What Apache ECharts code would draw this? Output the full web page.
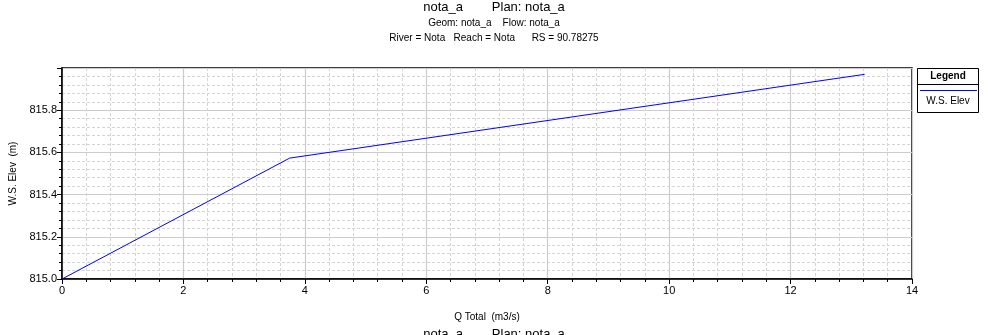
<!DOCTYPE html>
<html>
<head>
<meta charset="utf-8">
<script src="https://cdn.jsdelivr.net/npm/echarts@6/dist/echarts.min.js"></script>
<style>
html,body{margin:0;padding:0;background:#fff;}
#chart{width:988px;height:335px;}
</style>
</head>
<body>
<div id="chart"></div>
<script>
const qTotal = [0, 3.75, 13.22];
const wsElev = [815.0, 815.573, 815.97];
const titleLines = ["nota_a        Plan: nota_a", "Geom: nota_a    Flow: nota_a", "River = Nota   Reach = Nota      RS = 90.78275"];
const seriesName = "W.S. Elev";
const xName = "Q Total  (m3/s)";
const yName = "W.S. Elev  (m)";

const FONT = "Liberation Sans, Arial, sans-serif";
const chart = echarts.init(document.getElementById('chart'), null, {renderer: 'canvas'});
const option = {
  animation: false,
  backgroundColor: '#fff',
  grid: {left: 62, right: 76, top: 68, bottom: 56, show: true, borderColor: '#000', borderWidth: 1.5, backgroundColor: 'transparent'},
  xAxis: {
    type: 'value', min: 0, max: 14, interval: 2,
    name: xName, nameLocation: 'middle', nameGap: 33,
    nameTextStyle: {fontFamily: FONT, fontSize: 10, color: '#000'},
    axisLine: {show: true, lineStyle: {color: '#000', width: 1.5}},
    axisTick: {show: true, inside: false, length: 5, lineStyle: {color: '#000'}},
    minorTick: {show: true, splitNumber: 5, length: 3, lineStyle: {color: '#000'}},
    axisLabel: {fontFamily: FONT, fontSize: 11, color: '#000', margin: 6},
    splitLine: {show: true, lineStyle: {color: '#cccccc', width: 1.2}},
    minorSplitLine: {show: true, lineStyle: {color: '#d4d4d4', type: [3, 2], width: 1}}
  },
  yAxis: {
    type: 'value', min: 815.0, max: 816.0, interval: 0.2,
    name: yName, nameLocation: 'middle', nameGap: 42, nameRotate: 90,
    nameTextStyle: {fontFamily: FONT, fontSize: 10, color: '#000'},
    axisLine: {show: true, lineStyle: {color: '#000', width: 1.5}},
    axisTick: {show: true, inside: false, length: 5, lineStyle: {color: '#000'}},
    minorTick: {show: true, splitNumber: 5, length: 3, lineStyle: {color: '#000'}},
    axisLabel: {fontFamily: FONT, fontSize: 11, color: '#000', margin: 5, showMaxLabel: false,
      formatter: v => v.toFixed(1)},
    splitLine: {show: true, lineStyle: {color: '#cccccc', width: 1.2}},
    minorSplitLine: {show: true, lineStyle: {color: '#d4d4d4', type: [3, 2], width: 1}}
  },
  series: [{
    name: seriesName, type: 'line', showSymbol: false,
    data: qTotal.map((q, i) => [q, wsElev[i]]),
    lineStyle: {color: '#0000ff', width: 1},
    itemStyle: {color: '#0000ff'}
  }],
  graphic: [
    {type: 'text', left: 'center', top: 1, style: {text: titleLines[0], font: '13px ' + FONT, fill: '#000'}},
    {type: 'text', left: 'center', top: 18, style: {text: titleLines[1], font: '10px ' + FONT, fill: '#000'}},
    {type: 'text', left: 'center', top: 33, style: {text: titleLines[2], font: '10px ' + FONT, fill: '#000'}},
    {type: 'text', left: 'center', top: 328, style: {text: titleLines[0], font: '13px ' + FONT, fill: '#000'}},
    {type: 'rect', shape: {x: 917.5, y: 68.5, width: 61, height: 44}, style: {fill: '#fff', stroke: '#000', lineWidth: 1}},
    {type: 'line', shape: {x1: 917.5, y1: 84.5, x2: 978.5, y2: 84.5}, style: {stroke: '#000', lineWidth: 1}},
    {type: 'text', x: 948, y: 76, style: {text: 'Legend', font: 'bold 10px ' + FONT, fill: '#000', align: 'center', verticalAlign: 'middle'}},
    {type: 'line', shape: {x1: 920, y1: 90.5, x2: 977, y2: 90.5}, style: {stroke: '#0000ff', lineWidth: 1}},
    {type: 'text', x: 948, y: 101, style: {text: seriesName, font: '10px ' + FONT, fill: '#000', align: 'center', verticalAlign: 'middle'}}
  ]
};
chart.setOption(option);
</script>
</body>
</html>
